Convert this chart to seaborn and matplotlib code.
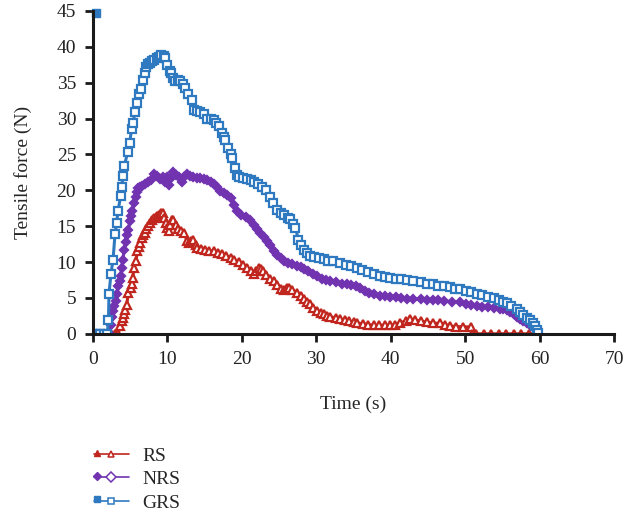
import pandas as pd
import seaborn as sns
import matplotlib.pyplot as plt
from matplotlib.lines import Line2D
from matplotlib.legend_handler import HandlerBase

# readings: time (s), tensile force (N)
rs_t = [0, 0.5, 1.0, 1.5, 2.0, 2.5, 3.0, 3.4, 3.65, 3.87, 4.0, 4.19, 4.35, 4.54, 4.77, 5.07, 5.2, 5.35,
        5.53, 5.8, 5.97, 6.15, 6.34, 6.55, 6.8, 7.0, 7.2, 7.45, 7.7, 7.9, 8.2, 8.56, 8.9, 9.2, 9.4, 9.6,
        9.77, 10.0, 10.2, 10.4, 10.6, 10.8, 11.2, 11.5, 11.9, 12.3, 12.6, 12.9, 13.2, 13.5, 13.8, 14.0,
        14.5, 15.0, 15.6, 16.2, 16.8, 17.3, 17.9, 18.5, 19.0, 19.6, 20.2, 20.7, 21.2, 21.6, 21.9, 22.3,
        22.6, 22.9, 23.3, 23.8, 24.3, 24.7, 25.2, 25.7, 26.0, 26.3, 26.8, 27.4, 27.9, 28.4, 28.8, 29.2,
        29.6, 30.1, 30.6, 31.0, 31.5, 31.9, 32.6, 33.2, 33.8, 34.4, 35.0, 35.5, 36.3, 37.0, 37.7, 38.4,
        39.2, 39.9, 40.6, 41.3, 42.0, 42.6, 43.3, 44.0, 44.9, 45.7, 46.6, 47.3, 48.0, 48.8, 49.7, 50.7,
        50.9, 51.5, 52.5, 53.5, 54.5, 55.5, 56.5, 57.5, 58.5, 59.5, 60.0]
rs_f = [0, 0, 0, 0, 0, 0, 0, 0, 1.1, 1.8, 2.2, 2.7, 3.3, 4.0, 5.7, 6.4, 7.0, 7.8,
        9.2, 10.2, 11.5, 12.1, 12.7, 13.4, 13.8, 14.1, 14.6, 15.0, 15.5, 15.9, 16.1, 16.4, 16.6, 16.8, 16.8, 16.2,
        15.4, 14.8, 14.4, 15.2, 15.9, 15.9, 15.2, 14.6, 14.3, 14.1, 13.0, 12.7, 12.9, 13.1, 12.4, 12.0,
        11.8, 11.7, 11.6, 11.5, 11.3, 11.1, 10.9, 10.6, 10.3, 10.0, 9.65, 9.2, 8.7, 8.3, 8.8, 9.2,
        9.0, 8.7, 8.2, 7.7, 7.3, 6.8, 6.2, 6.1, 6.4, 6.4, 6.1, 5.7, 5.3, 4.8, 4.4, 4.1,
        3.6, 3.2, 2.9, 2.7, 2.5, 2.4, 2.2, 2.0, 1.9, 1.8, 1.6, 1.5, 1.4, 1.3, 1.2, 1.2,
        1.2, 1.2, 1.3, 1.55, 1.8, 2.0, 1.9, 1.8, 1.6, 1.5, 1.45, 1.3, 1.1, 1.0, 1.0, 0.95,
        0, 0, 0, 0, 0, 0, 0, 0, 0, 0, 0]

nrs_t = [0, 0.5, 1.0, 1.5, 2.0, 2.3, 2.44, 2.6, 2.75, 2.9, 3.1, 3.25, 3.42, 3.6, 3.73, 3.87, 4.0, 4.23,
         4.4, 4.54, 4.77, 4.99, 5.15, 5.3, 5.57, 5.75, 5.88, 6.1, 6.3, 6.6, 7.0, 7.4, 7.8, 8.2, 8.6, 9.0,
         9.4, 9.7, 9.96, 10.2, 10.5, 10.8, 11.2, 11.6, 12.0, 12.3, 12.6, 13.0, 13.5, 14.0, 14.4, 14.9,
         15.3, 15.8, 16.2, 16.7, 17.1, 17.6, 18.0, 18.5, 19.0, 19.4, 19.9, 20.5, 21.1, 21.6, 22.0, 22.5,
         23.0, 23.4, 23.8, 24.3, 24.7, 25.2, 25.7, 26.2, 26.8, 27.4, 27.9, 28.3, 28.9, 29.5, 30.1, 30.7,
         31.3, 31.9, 32.6, 33.4, 34.1, 34.7, 35.3, 35.9, 36.5, 37.1, 37.7, 38.5, 39.2, 39.9, 40.7, 41.4,
         42.2, 43.0, 44.0, 44.9, 45.7, 46.4, 47.1, 48.2, 49.3, 50.1, 50.8, 51.6, 52.3, 53.1, 53.8, 54.6,
         55.1, 55.6, 56.0, 56.5, 57.0, 57.4, 57.8, 58.3, 58.7, 59.2, 59.5, 59.8]
nrs_f = [0, 0, 0, 0, 0, 0, 1.3, 2.3, 3.2, 3.9, 4.6, 5.6, 6.7, 7.4, 8.0, 9.2, 10.3, 11.7,
         12.8, 13.8, 14.5, 15.7, 16.4, 17.1, 18.2, 19.0, 19.7, 20.3, 20.5, 20.6, 20.9, 21.2, 21.5, 22.3, 22.0, 21.6,
         21.8, 21.2, 21.9, 20.8, 21.7, 22.5, 22.1, 21.8, 21.2, 21.8, 22.3, 22.0, 21.8, 21.7, 21.7, 21.6,
         21.5, 21.2, 20.9, 20.5, 19.9, 19.6, 19.3, 18.9, 18.0, 17.1, 16.6, 16.3, 15.9, 15.2, 14.6, 14.1,
         13.5, 12.9, 12.4, 11.6, 11.0, 10.6, 10.1, 9.9, 9.7, 9.5, 9.3, 9.0, 8.7, 8.3, 8.0, 7.7,
         7.5, 7.3, 7.2, 7.0, 6.9, 6.8, 6.6, 6.4, 6.0, 5.7, 5.5, 5.3, 5.3, 5.2, 5.1, 5.0,
         4.9, 4.85, 4.8, 4.75, 4.7, 4.65, 4.6, 4.5, 4.4, 4.2, 4.0, 3.9, 3.8, 3.7, 3.6, 3.5,
         3.4, 3.3, 3.1, 2.7, 2.4, 2.1, 1.8, 1.5, 1.2, 0.9, 0.5, 0.0]

grs_t = [0, 0.5, 1.0, 1.5, 1.95, 2.1, 2.17, 2.44, 2.71, 2.98, 3.2, 3.38, 3.73, 3.87, 4.05, 4.23, 4.67, 4.94,
         5.2, 5.4, 5.66, 5.97, 6.2, 6.47, 6.78, 7.0, 7.2, 7.45, 7.7, 7.9, 8.2, 8.56, 8.9, 9.2, 9.5, 9.7,
         10.0, 10.3, 10.5, 10.8, 11.0, 11.4, 11.7, 12.1, 12.4, 12.8, 13.3, 13.6, 14.0, 14.4, 14.9, 15.3,
         15.8, 16.2, 16.6, 16.9, 17.3, 17.6, 17.8, 18.2, 18.5, 18.7, 19.1, 19.4, 19.6, 20.2, 20.7, 21.2,
         21.7, 22.2, 22.7, 23.2, 23.8, 24.2, 24.7, 25.2, 25.7, 26.2, 26.5, 26.9, 27.2, 27.6, 27.9, 28.3,
         28.7, 29.2, 29.7, 30.3, 31.0, 31.6, 32.3, 33.2, 34.0, 34.7, 35.5, 36.2, 37.0, 37.7, 38.5, 39.2,
         39.9, 40.7, 41.4, 42.2, 43.0, 44.0, 44.9, 45.7, 46.4, 47.1, 47.9, 48.6, 49.3, 50.1, 50.8, 51.6,
         52.3, 53.1, 53.8, 54.5, 55.1, 55.6, 56.2, 56.9, 57.3, 57.8, 58.3, 58.7, 59.1, 59.4, 59.6, 59.8]
grs_f = [0, 0, 0, 0, 0, 1.9, 5.6, 8.4, 10.3, 13.9, 15.5, 17.1, 19.2, 20.5, 22.0, 23.4, 25.3, 26.6,
         28.5, 29.4, 30.9, 32.2, 33.4, 34.1, 35.4, 36.3, 37.2, 37.6, 37.7, 38.0, 38.2, 38.4, 38.6, 38.8, 38.7, 38.4,
         37.4, 36.6, 36.3, 35.6, 35.3, 35.4, 35.2, 34.8, 34.2, 33.4, 32.6, 31.2, 31.0, 30.9, 30.6, 30.0,
         29.9, 29.8, 29.4, 28.9, 28.0, 27.5, 27.0, 25.9, 25.0, 24.5, 23.1, 22.2, 21.9, 21.7, 21.6, 21.4,
         21.1, 20.9, 20.5, 20.1, 19.0, 18.3, 17.3, 16.9, 16.5, 16.2, 16.0, 15.3, 14.8, 13.1, 12.4, 11.7,
         11.2, 10.9, 10.7, 10.6, 10.4, 10.2, 10.1, 9.9, 9.6, 9.4, 9.2, 8.9, 8.6, 8.4, 8.1, 7.9,
         7.8, 7.7, 7.6, 7.5, 7.4, 7.2, 7.0, 6.9, 6.7, 6.6, 6.5, 6.3, 6.2, 6.0, 5.8, 5.6,
         5.4, 5.2, 5.0, 4.7, 4.5, 4.3, 3.9, 3.4, 3.0, 2.6, 2.25, 1.9, 1.5, 1.1, 0.6, 0.1]

# stray filled marker in the top-left corner of the original
stray_t = [0.45]
stray_f = [44.7]

names = ['RS', 'NRS', 'GRS']
colors = {'RS': '#c0261e', 'NRS': '#7133b0', 'GRS': '#2f79c0'}
marks = {'RS': '^', 'NRS': 'D', 'GRS': 's'}

df = pd.concat([
    pd.DataFrame({'Time': rs_t, 'Force': rs_f, 'Sample': 'RS'}),
    pd.DataFrame({'Time': nrs_t, 'Force': nrs_f, 'Sample': 'NRS'}),
    pd.DataFrame({'Time': grs_t, 'Force': grs_f, 'Sample': 'GRS'}),
])

sns.set_theme(style='ticks')
plt.rcParams['font.family'] = ['Liberation Serif', 'DejaVu Serif']

fig = plt.figure(figsize=(6.23, 5.2), dpi=100)
ax = fig.add_axes([0.149, 0.358, 0.837, 0.621])

for name in names:
    sub = df[df['Sample'] == name]
    c = colors[name]
    face = c if name == 'NRS' else 'white'
    ms = 4.2 if name == 'NRS' else 5.2
    sns.lineplot(data=sub, x='Time', y='Force', ax=ax, sort=False, estimator=None,
                 color=c, linewidth=2.2, marker=marks[name], markersize=ms,
                 markerfacecolor=face, markeredgecolor=c, markeredgewidth=1.6,
                 legend=False)

ax.plot(stray_t, stray_f, ls='', marker='s', ms=6, color=colors['GRS'], clip_on=False)

ax.set_xlim(0, 70)
ax.set_ylim(0, 45)
ax.set_xticks(range(0, 71, 10))
ax.set_yticks(range(0, 46, 5))
ax.set_xlabel('Time (s)', fontsize=14, labelpad=20)
ax.set_ylabel('Tensile force (N)', fontsize=14, labelpad=18)
ax.tick_params(axis='both', labelsize=14, length=6, width=2, pad=6,
               colors='#1a1a1a', labelcolor='#222222')
sns.despine(ax=ax)
for side in ['left', 'bottom']:
    ax.spines[side].set_linewidth(2.2)
    ax.spines[side].set_color('#1a1a1a')


class TwoMarkerHandler(HandlerBase):
    # legend key: filled marker at left end, open marker in the middle
    def create_artists(self, legend, orig_handle, xdescent, ydescent, width, height, fontsize, trans):
        c = orig_handle.get_color()
        m = orig_handle.get_marker()
        y = height / 2 - ydescent
        line = Line2D([-xdescent, width - xdescent], [y, y], color=c, lw=1.2)
        m1 = Line2D([-xdescent + 2], [y + 1], ls='', marker=m, ms=4, color=c)
        m2 = Line2D([width * 0.5 - xdescent], [y], ls='', marker=m, ms=5,
                    markerfacecolor='white', markeredgecolor=c, markeredgewidth=1.1)
        for a in (line, m1, m2):
            a.set_transform(trans)
        return [line, m1, m2]


handles = [Line2D([], [], color=colors[n], marker=marks[n]) for n in names]
fig.legend(handles, names, handler_map={h: TwoMarkerHandler() for h in handles},
           loc='upper left', bbox_to_anchor=(0.138, 0.155), frameon=False, fontsize=14,
           handlelength=1.8, handletextpad=0.7, labelspacing=0.3, borderaxespad=0)

fig.savefig('out.png', dpi=100)
